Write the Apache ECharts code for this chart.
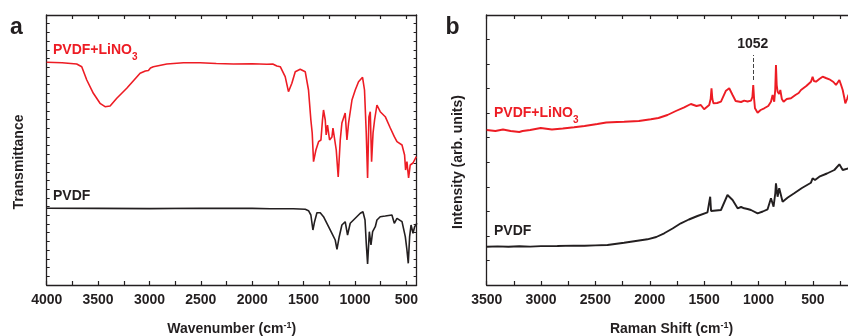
<!DOCTYPE html>
<html><head><meta charset="utf-8">
<script src="https://cdn.jsdelivr.net/npm/echarts@6/dist/echarts.min.js"></script>
<style>html,body{margin:0;padding:0;background:#fff}#c{width:848px;height:336px}</style>
</head><body><div id="c"></div>
<script>
// FTIR (panel a): [wavenumber, transmittance (arb.)]
const ftirLiNO3 = [[4000,222.7],[3850,222.3],[3708,221],[3659,218.3],[3610,205],[3546,191.7],[3481,181.7],[3432,178.3],[3383,179],[3318,186.7],[3221,196.7],[3091,211.7],[3040,214],[3026,215.7],[3010,214.5],[2990,217],[2962,218.3],[2831,221],[2669,222.3],[2507,222.3],[2350,221.5],[2182,221],[2000,221.3],[1857,220.7],[1800,221],[1760,219],[1727,218.3],[1679,208.3],[1647,193.3],[1614,201.7],[1581,213.3],[1533,215.7],[1484,213.3],[1452,195],[1429,165],[1416,152],[1403,123.3],[1380,135],[1354,143.3],[1331,145],[1316,165],[1306,175],[1289,165],[1280,150],[1267,160],[1247,145],[1224,148],[1214,157],[1202,155],[1182,135],[1163,108],[1143,145],[1127,162],[1095,172],[1078,145],[1062,162],[1029,185],[997,195],[965,203.3],[926,207.7],[907,195],[890,152],[877,107],[864,168],[851,173.3],[838,123.3],[824,152],[809,165],[786,180],[754,173.3],[705,168.3],[656,157],[617,148.3],[591,143.3],[542,140],[517,130],[507,115],[494,123.3],[478,107],[462,120],[435,122],[403,128.3]];
const ftirPVDF = [[4000,76.7],[3500,76.6],[3000,76.4],[2500,76.7],[2000,76.6],[1825,76.3],[1600,76.2],[1484,75.7],[1452,74.3],[1429,70],[1409,55],[1393,63.3],[1370,72.3],[1338,72.3],[1306,68.3],[1257,58.3],[1224,51.7],[1192,45],[1175,35.7],[1153,48.3],[1127,60],[1095,63.3],[1072,50],[1046,61.7],[997,66.7],[948,71.7],[922,73.3],[902,65],[890,41.7],[877,21],[860,53.3],[844,40],[828,53.3],[802,58.3],[786,65],[754,68.3],[705,69],[640,70],[617,61.7],[591,66.7],[542,63.3],[510,48.3],[494,35],[481,21.7],[468,48.3],[454,60],[435,51.7],[419,58.3],[396,61.7]];
// Raman (panel b): [shift, intensity (arb.)]
const ramanLiNO3 = [[3500,155],[3420,154],[3350,155.5],[3280,154],[3200,153],[3187,151],[3170,154],[3100,155],[3003,157],[2900,155.5],[2800,156.5],[2696,157.7],[2600,159],[2482,161],[2400,162.5],[2300,163],[2236,163.3],[2100,164],[1990,165.7],[1920,167],[1837,170],[1760,174],[1683,177.7],[1622,181],[1570,179],[1530,180],[1500,175.7],[1453,180],[1440,186],[1432,196.7],[1424,186],[1414,181.7],[1380,182],[1345,183.3],[1299,194.3],[1269,196.7],[1238,190],[1210,184],[1192,183.3],[1160,183],[1131,184.3],[1100,183.5],[1069,184.3],[1056,188],[1048,200],[1040,186],[1032,176.7],[1008,172.3],[980,175],[947,176.7],[910,179],[885,183.3],[870,190],[855,183.3],[846,195],[839,220],[832,200],[824,193.3],[810,191],[799,195],[785,186],[769,183.3],[740,186],[701,186.7],[660,190],[630,192],[609,195],[560,199],[517,203.3],[502,208.3],[490,204],[471,203.3],[440,206],[410,208.3],[380,207],[348,205.7],[310,203],[287,200],[256,205],[240,200],[225,195],[210,187],[201,181.7],[185,186],[173,190],[140,192]];
const ramanPVDF = [[3500,38.3],[3400,38.6],[3300,38.2],[3200,38.7],[3100,38.4],[3000,38.9],[2850,39],[2700,39.4],[2600,39.2],[2500,39.6],[2389,40],[2236,42.3],[2113,44.3],[2021,45.7],[1940,48],[1867,51.7],[1790,56.5],[1714,61.7],[1640,65.5],[1561,69],[1469,72.7],[1452,74],[1444,88.3],[1436,74],[1423,72.3],[1345,75],[1285,90],[1238,85],[1192,76.7],[1160,78],[1131,76.7],[1100,76],[1069,75],[1008,71.7],[960,73.5],[916,75.7],[885,86.7],[861,78.3],[845,92],[839,101.7],[824,88.3],[809,96.7],[778,83.3],[730,87.5],[671,91.7],[600,97],[517,102.3],[502,106.7],[480,105],[440,108.3],[370,111.5],[302,115],[256,120.7],[225,115],[173,116.7],[140,117.5]];
const ftirLabels = [500,1000,1500,2000,2500,3000,3500,4000];
const ftirTicks = [500,750,1000,1250,1500,1750,2000,2250,2500,2750,3000,3250,3500,3750,4000];
const ramanLabels = [500,1000,1500,2000,2500,3000,3500];
const ramanTicks = [250,500,750,1000,1250,1500,1750,2000,2250,2500,2750,3000,3250,3500];
const peakMark = 1052;

const RED = '#ed1c24', BLK = '#231f20';
const FONT = '"Liberation Sans", Arial, sans-serif';
const axLine = {show:true, onZero:false, lineStyle:{color:BLK, width:1.3}};
const nameStyle = {fontSize:14, fontWeight:'bold', color:BLK, fontFamily:FONT,
  rich:{sup:{fontSize:9, fontWeight:'bold', color:BLK, fontFamily:FONT, verticalAlign:'top', padding:[0,0,8,0]}}};

function xPair(gi, min, max, labels, ticks, name){
  const base = {type:'value', gridIndex:gi, min:min, max:max, inverse:true, splitLine:{show:false},
    axisLine:axLine, axisTick:{show:true, inside:true, length:4, customValues:ticks, lineStyle:{color:BLK, width:1.2}}};
  return [
    Object.assign({}, base, {position:'bottom', name:name, nameLocation:'middle', nameGap:36, nameTextStyle:nameStyle,
      axisLabel:{show:true, customValues:labels, formatter:(v)=>String(v), fontSize:14, fontWeight:'bold', color:BLK, fontFamily:FONT, margin:8}}),
    Object.assign({}, base, {position:'top', axisLabel:{show:false}})
  ];
}
function yPair(gi, nTicks, name, gap){
  const base = {type:'value', gridIndex:gi, min:0, max:270, interval:270/nTicks, splitLine:{show:false},
    axisLine:axLine, axisTick:{show:true, inside:true, length:3, lineStyle:{color:BLK, width:1}}, axisLabel:{show:false}};
  return [
    Object.assign({}, base, {position:'left', name:name, nameLocation:'middle', nameGap:gap,
      nameTextStyle:Object.assign({}, nameStyle, {padding:[0,24,0,0]})}),
    Object.assign({}, base, {position:'right'})
  ];
}

const chart = echarts.init(document.getElementById('c'), null, {renderer:'canvas'});
const lbl = (x, y, parts, color) => ({type:'text', x:x, y:y, style:{
  text: parts, fill:color, font:'bold 14px '+FONT, textVerticalAlign:'middle',
  rich:{n:{fontSize:14, fontWeight:'bold', fill:color, fontFamily:FONT, verticalAlign:'top'},
        s:{fontSize:10, fontWeight:'bold', fill:color, fontFamily:FONT, verticalAlign:'top', padding:[9,0,0,0]}}}});
chart.setOption({
  animation:false,
  backgroundColor:'#fff',
  grid:[
    {left:46.7, right:431.4, top:15, bottom:51, containLabel:false, outerBoundsMode:'none'},
    {left:486.7, right:-8.3, top:15, bottom:51, containLabel:false, outerBoundsMode:'none'}
  ],
  xAxis:[].concat(xPair(0,400,4000,ftirLabels,ftirTicks,'Wavenumber (cm{sup|-1})'),
                  xPair(1,100,3500,ramanLabels,ramanTicks,'Raman Shift (cm{sup|-1})')),
  yAxis:[].concat(yPair(0,31,'Transmittance',21), yPair(1,11,'Intensity (arb. units)',22)),
  graphic:[
    {type:'text', x:10, y:28, style:{text:'a', font:'bold 23px '+FONT, fill:BLK, textVerticalAlign:'middle'}},
    {type:'text', x:445.5, y:28, style:{text:'b', font:'bold 23px '+FONT, fill:BLK, textVerticalAlign:'middle'}},
    lbl(53, 52.5, '{n|PVDF+LiNO}{s|3}', RED),
    lbl(53, 196, '{n|PVDF}', BLK),
    lbl(494, 116, '{n|PVDF+LiNO}{s|3}', RED),
    lbl(494, 231.5, '{n|PVDF}', BLK)
  ],
  series:[
    {type:'line', xAxisIndex:0, yAxisIndex:0, data:ftirLiNO3, showSymbol:false, lineStyle:{color:RED, width:1.6}, itemStyle:{color:RED}},
    {type:'line', xAxisIndex:0, yAxisIndex:0, data:ftirPVDF, showSymbol:false, lineStyle:{color:BLK, width:1.6}, itemStyle:{color:BLK}},
    {type:'line', xAxisIndex:2, yAxisIndex:2, data:ramanLiNO3, showSymbol:false, lineStyle:{color:RED, width:1.9}, itemStyle:{color:RED},
      markLine:{silent:true, symbol:['none','none'], lineStyle:{type:'dashed', color:'#444', width:1},
        label:{show:true, position:'end', formatter:String(peakMark), fontSize:14, fontWeight:'bold', color:BLK, fontFamily:FONT, distance:4},
        data:[[{coord:[peakMark,205]},{coord:[peakMark,230]}]]}},
    {type:'line', xAxisIndex:2, yAxisIndex:2, data:ramanPVDF, showSymbol:false, lineStyle:{color:BLK, width:1.9}, itemStyle:{color:BLK}}
  ]
});
</script></body></html>
